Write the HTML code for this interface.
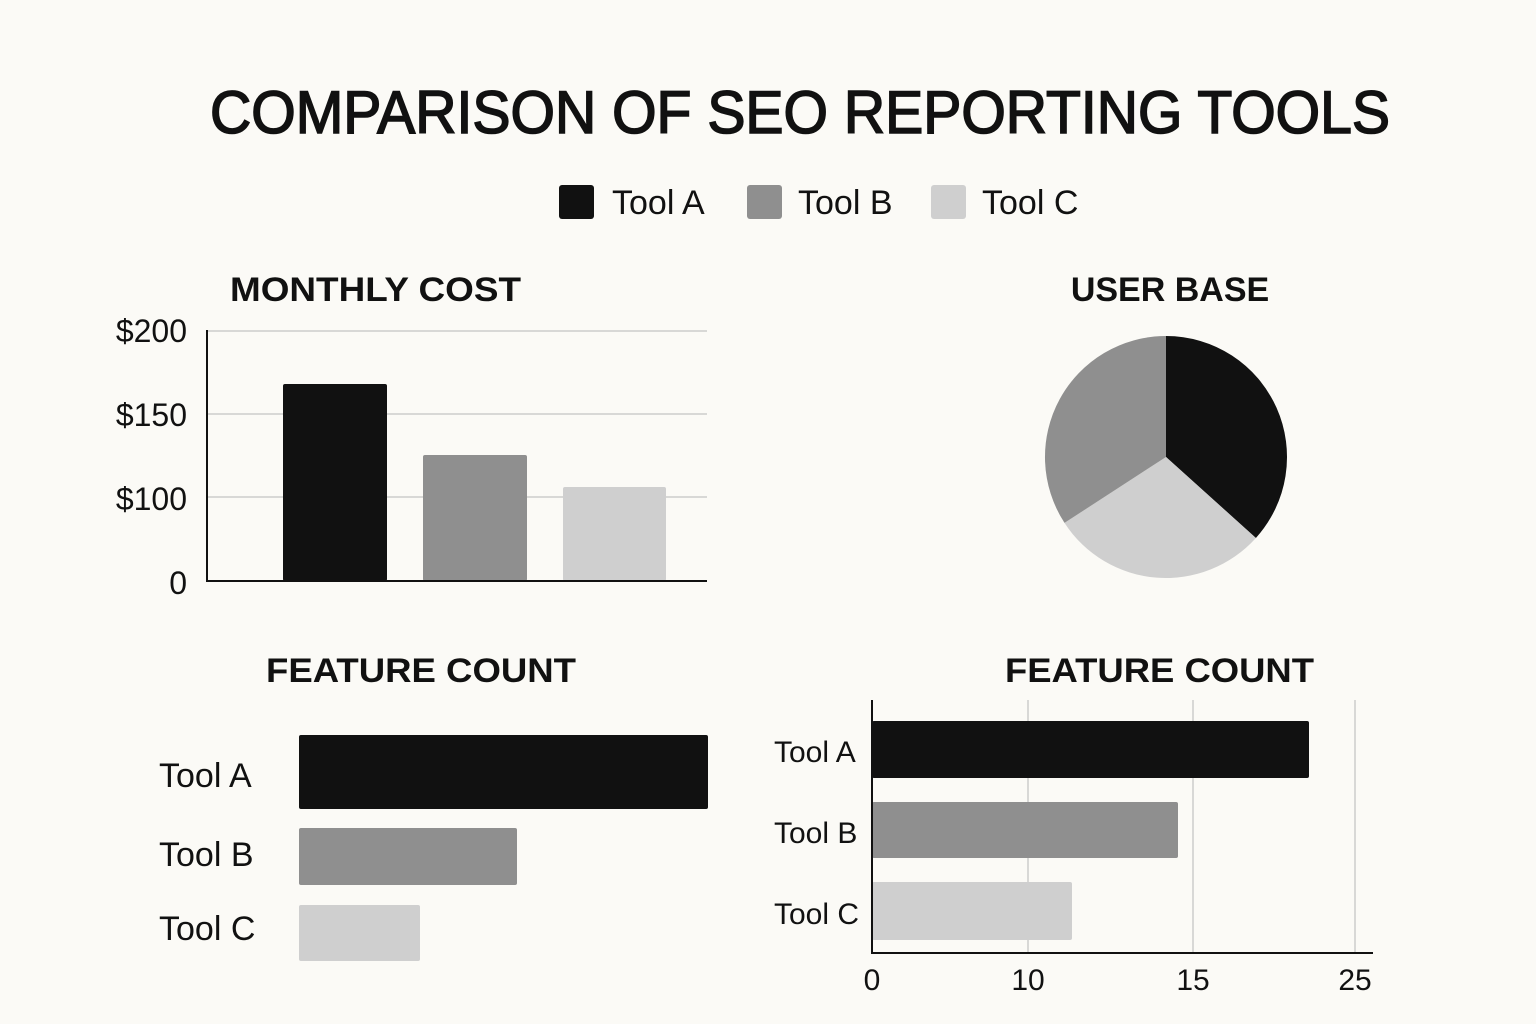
<!DOCTYPE html>
<html><head><meta charset="utf-8"><style>
html,body{margin:0;padding:0;background:#fbfaf6;}
svg{display:block;}
text{font-family:"Liberation Sans",sans-serif;fill:#111;}
.t{font-weight:bold;}
</style></head><body>
<svg width="1536" height="1024" viewBox="0 0 1536 1024">
<rect width="1536" height="1024" fill="#fbfaf6"/>
<text x="800" y="133" font-size="60" text-anchor="middle" textLength="1180" lengthAdjust="spacingAndGlyphs" stroke="#111" stroke-width="1.6">COMPARISON OF SEO REPORTING TOOLS</text>
<rect x="559" y="185" width="35" height="34" rx="3" fill="#111"/>
<text x="612" y="214" font-size="34">Tool A</text>
<rect x="747" y="185" width="35" height="34" rx="3" fill="#8f8f8f"/>
<text x="798" y="214" font-size="34">Tool B</text>
<rect x="931" y="185" width="35" height="34" rx="3" fill="#cfcfcf"/>
<text x="982" y="214" font-size="34">Tool C</text>

<text class="t" x="230" y="301" font-size="34" textLength="291" lengthAdjust="spacingAndGlyphs">MONTHLY COST</text>
<g stroke="#ccc" stroke-width="1.5"><line x1="207" y1="331" x2="707" y2="331"/><line x1="207" y1="414" x2="707" y2="414"/><line x1="207" y1="497" x2="707" y2="497"/></g>
<rect x="283" y="384" width="104" height="197" fill="#111" rx="2"/>
<rect x="423" y="455" width="104" height="126" fill="#8f8f8f" rx="2"/>
<rect x="563" y="487" width="103" height="94" fill="#cfcfcf" rx="2"/>
<line x1="207" y1="330" x2="207" y2="582" stroke="#111" stroke-width="2"/>
<line x1="206" y1="581" x2="707" y2="581" stroke="#111" stroke-width="2"/>
<g font-size="32" text-anchor="end"><text x="187" y="342">$200</text><text x="187" y="426">$150</text><text x="187" y="510">$100</text><text x="187" y="594">0</text></g>

<text class="t" x="1170" y="301" font-size="34" text-anchor="middle">USER BASE</text>
<path d="M1166,457 L1166,336 A121,121 0 0 1 1255.9,538 Z" fill="#111"/>
<path d="M1166,457 L1255.9,538 A121,121 0 0 1 1064.5,522.9 Z" fill="#cfcfcf"/>
<path d="M1166,457 L1064.5,522.9 A121,121 0 0 1 1166,336 Z" fill="#8f8f8f"/>

<text class="t" x="266" y="682" font-size="34" textLength="310" lengthAdjust="spacingAndGlyphs">FEATURE COUNT</text>
<rect x="299" y="735" width="409" height="74" rx="2" fill="#111"/>
<rect x="299" y="828" width="218" height="57" rx="2" fill="#8f8f8f"/>
<rect x="299" y="905" width="121" height="56" rx="2" fill="#cfcfcf"/>
<g font-size="34"><text x="159" y="787">Tool A</text><text x="159" y="866">Tool B</text><text x="159" y="940">Tool C</text></g>

<text class="t" x="1005" y="682" font-size="34" textLength="309" lengthAdjust="spacingAndGlyphs">FEATURE COUNT</text>
<g stroke="#ccc" stroke-width="1.5"><line x1="1028" y1="700" x2="1028" y2="953"/><line x1="1193" y1="700" x2="1193" y2="953"/><line x1="1355" y1="700" x2="1355" y2="953"/></g>
<rect x="872" y="721" width="437" height="57" rx="2" fill="#111"/>
<rect x="872" y="802" width="306" height="56" rx="2" fill="#8f8f8f"/>
<rect x="872" y="882" width="200" height="58" rx="2" fill="#cfcfcf"/>
<line x1="872" y1="700" x2="872" y2="954" stroke="#111" stroke-width="2"/>
<line x1="871" y1="953" x2="1373" y2="953" stroke="#111" stroke-width="2"/>
<g font-size="30"><text x="774" y="762">Tool A</text><text x="774" y="843">Tool B</text><text x="774" y="924">Tool C</text></g>
<g font-size="30" text-anchor="middle"><text x="872" y="990">0</text><text x="1028" y="990">10</text><text x="1193" y="990">15</text><text x="1355" y="990">25</text></g>
</svg>
</body></html>
